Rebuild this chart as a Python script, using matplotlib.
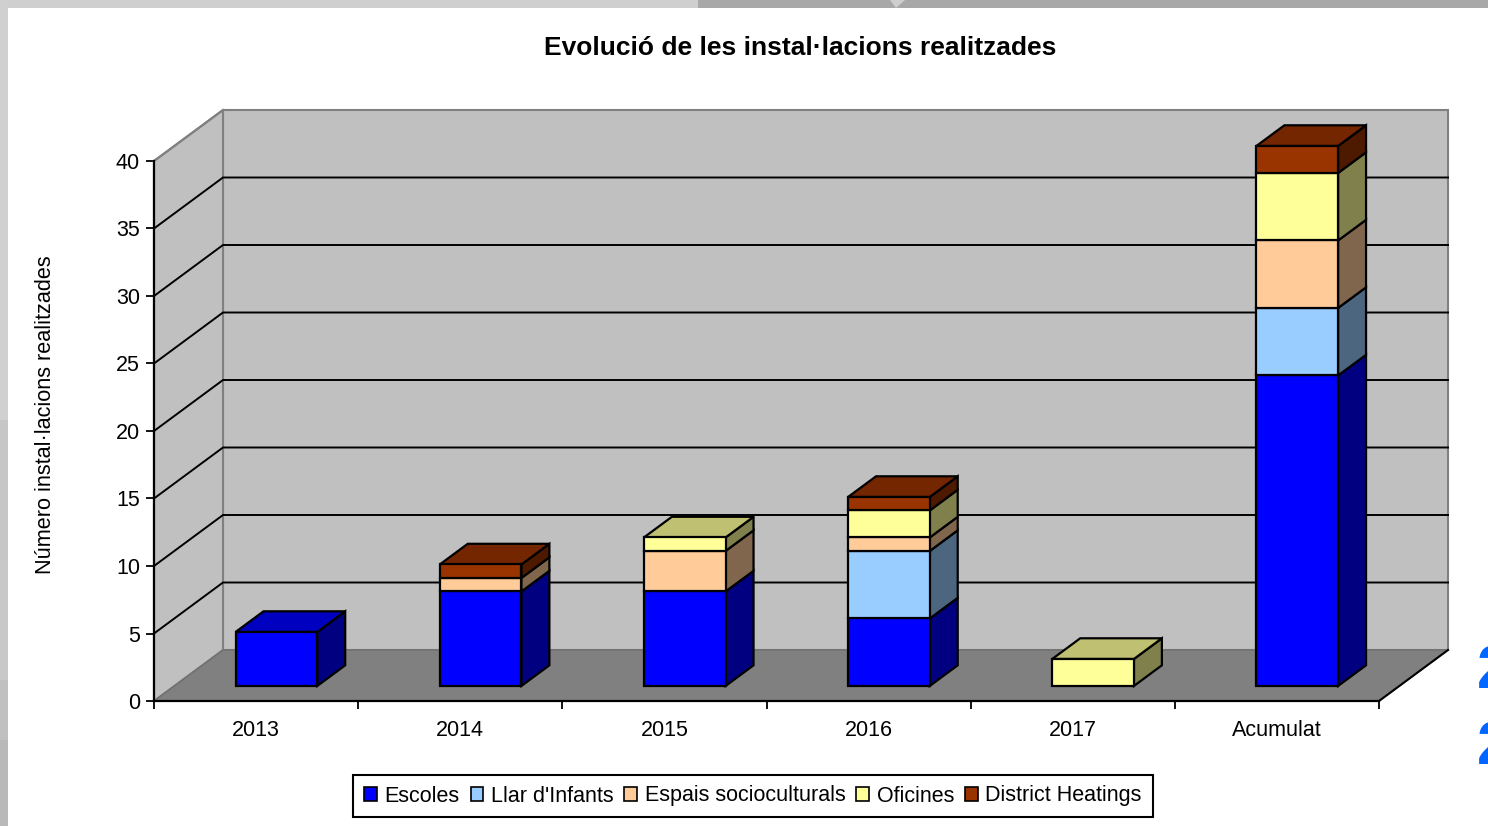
import numpy as np
import matplotlib
matplotlib.use("Agg")
import matplotlib.pyplot as plt
from matplotlib.patches import Polygon, Rectangle, Patch

plt.rcParams['font.family'] = ['Liberation Sans', 'DejaVu Sans']

categories = ['2013', '2014', '2015', '2016', '2017', 'Acumulat']
escoles = [4, 7, 7, 5, 0, 23]
llar = [0, 0, 0, 5, 0, 5]
espais = [0, 1, 3, 1, 0, 5]
oficines = [0, 0, 1, 2, 2, 5]
district = [0, 1, 0, 1, 0, 2]

series = [escoles, llar, espais, oficines, district]
names = ['Escoles', "Llar d'Infants", 'Espais socioculturals', 'Oficines', 'District Heatings']
front = ['#0000ff', '#99ccff', '#ffcc99', '#ffff99', '#993300']
side = ['#000080', '#4d6680', '#80664d', '#80804d', '#4d1a00']
top = ['#0000c0', '#7399c0', '#c09973', '#c0c073', '#732600']

W, H = 1488, 826
fig = plt.figure(figsize=(W / 100, H / 100), dpi=100, facecolor='white')

# front plane of the 3d box, x in categories and y in values
ax = fig.add_axes([154 / W, 1 - 701 / H, (1379 - 154) / W, 540 / H])
ax.set_xlim(0, 6)
ax.set_ylim(0, 40)
ax.patch.set_visible(False)

# depth of the box, in axis units
dx = 69 / (1225 / 6)
dy = 51 / (540 / 40)


def proj(x, y, d):
    return (x + d * dx, y + d * dy)


def poly(pts, fc, ec='black', lw=1.6, z=3):
    ax.add_patch(Polygon(pts, closed=True, facecolor=fc, edgecolor=ec, linewidth=lw,
                         joinstyle='miter', clip_on=False, zorder=z))


# walls and floor
poly([proj(0, 0, 1), proj(6, 0, 1), proj(6, 40, 1), proj(0, 40, 1)], '#c0c0c0', '#808080', 1.5, 1)
poly([proj(0, 0, 0), proj(0, 0, 1), proj(0, 40, 1), proj(0, 40, 0)], '#c0c0c0', '#808080', 1.5, 1)
poly([proj(0, 0, 0), proj(6, 0, 0), proj(6, 0, 1), proj(0, 0, 1)], '#808080', '#707070', 1, 1)

# gridlines on the walls
for v in range(5, 40, 5):
    ax.plot(*zip(proj(0, v, 0), proj(0, v, 1), proj(6, v, 1)), color='black', lw=1.4,
            clip_on=False, zorder=2, solid_joinstyle='miter')
ax.plot(*zip(proj(0, 40, 0), proj(0, 40, 1)), color='#808080', lw=1.5, clip_on=False, zorder=2)
ax.plot(*zip(proj(6, 0, 0), proj(6, 0, 1)), color='black', lw=1.5, clip_on=False, zorder=6)

# stacked bars, sitting inside the depth of the floor
d0, d1 = 0.295, 0.70
half = 0.2
for i in range(len(categories)):
    base = 0
    x0 = i + 0.5 - half
    x1 = i + 0.5 + half
    last = max(k for k, s in enumerate(series) if s[i] > 0)
    for k, s in enumerate(series):
        v = s[i]
        if v == 0:
            continue
        t = base + v
        poly([proj(x1, base, d0), proj(x1, base, d1), proj(x1, t, d1), proj(x1, t, d0)], side[k], z=4)
        poly([proj(x0, base, d0), proj(x1, base, d0), proj(x1, t, d0), proj(x0, t, d0)], front[k], z=5)
        if k == last:
            poly([proj(x0, t, d0), proj(x1, t, d0), proj(x1, t, d1), proj(x0, t, d1)], top[k], z=4)
        base = t

# axes
for s in ['top', 'right']:
    ax.spines[s].set_visible(False)
for s in ['left', 'bottom']:
    ax.spines[s].set_linewidth(1.6)
    ax.spines[s].set_zorder(7)
ax.set_xticks(range(7))
ax.set_xticklabels([])
ax.set_xticks(np.arange(6) + 0.5, categories, minor=True, fontsize=15.5)
ax.tick_params(axis='x', which='minor', length=0, pad=14)
ax.tick_params(axis='x', which='major', length=6, width=1.3, direction='out')
ax.set_yticks(range(0, 45, 5))
ax.tick_params(axis='y', labelsize=15.5, length=6, width=1.3, pad=4)
ax.set_ylabel('Número instal·lacions realitzades', fontsize=15.6, va='center')
ax.yaxis.set_label_coords((46 - 154) / 1225, (701 - 415) / 540)

fig.text(800 / W, 1 - 48 / H, 'Evolució de les instal·lacions realitzades', fontsize=19,
         fontweight='bold', ha='center', va='center')

handles = [Patch(facecolor=c, edgecolor='black', linewidth=1.2) for c in front]
leg = fig.legend(handles, names, loc='center', bbox_to_anchor=(753 / W, 1 - 796 / H), ncol=5,
                 fontsize=15.5, frameon=True, fancybox=False, edgecolor='black', framealpha=1,
                 handlelength=0.6, handleheight=0.6, handletextpad=0.35, columnspacing=0.5,
                 borderpad=0.5, borderaxespad=0)
leg.get_frame().set_linewidth(1.5)

# slide frame round the chart
strip = {'edgecolor': 'none', 'transform': fig.transFigure, 'zorder': 10}
fig.add_artist(Rectangle((0, 1 - 8 / H), 698 / W, 8 / H, facecolor='#cfcfcf', **strip))
fig.add_artist(Rectangle((698 / W, 1 - 8 / H), 790 / W, 8 / H, facecolor='#a8a8a8', **strip))
fig.add_artist(Polygon([(890 / W, 1), (905 / W, 1), (896 / W, 1 - 8 / H)], closed=True,
                       facecolor='#cfcfcf', **strip))
fig.add_artist(Rectangle((0, 1 - 420 / H), 8 / W, 420 / H, facecolor='#d0d0d0', **strip))
fig.add_artist(Rectangle((0, 1 - 560 / H), 8 / W, 140 / H, facecolor='#c6c6c6', **strip))
fig.add_artist(Rectangle((0, 1 - 680 / H), 8 / W, 120 / H, facecolor='#c8c8c8', **strip))
fig.add_artist(Rectangle((0, 1 - 740 / H), 8 / W, 60 / H, facecolor='#c0c0c0', **strip))
fig.add_artist(Rectangle((0, 0), 8 / W, 86 / H, facecolor='#b9b9b9', **strip))

# pieces of slide text cut off by the right edge
fig.text(1477 / W, 1 - 672.5 / H, '2', color='#0066ff', fontsize=44, fontweight='bold', ha='left', va='center')
fig.text(1477 / W, 1 - 748.5 / H, '2', color='#0066ff', fontsize=44, fontweight='bold', ha='left', va='center')

fig.savefig('out.png', dpi=100)
